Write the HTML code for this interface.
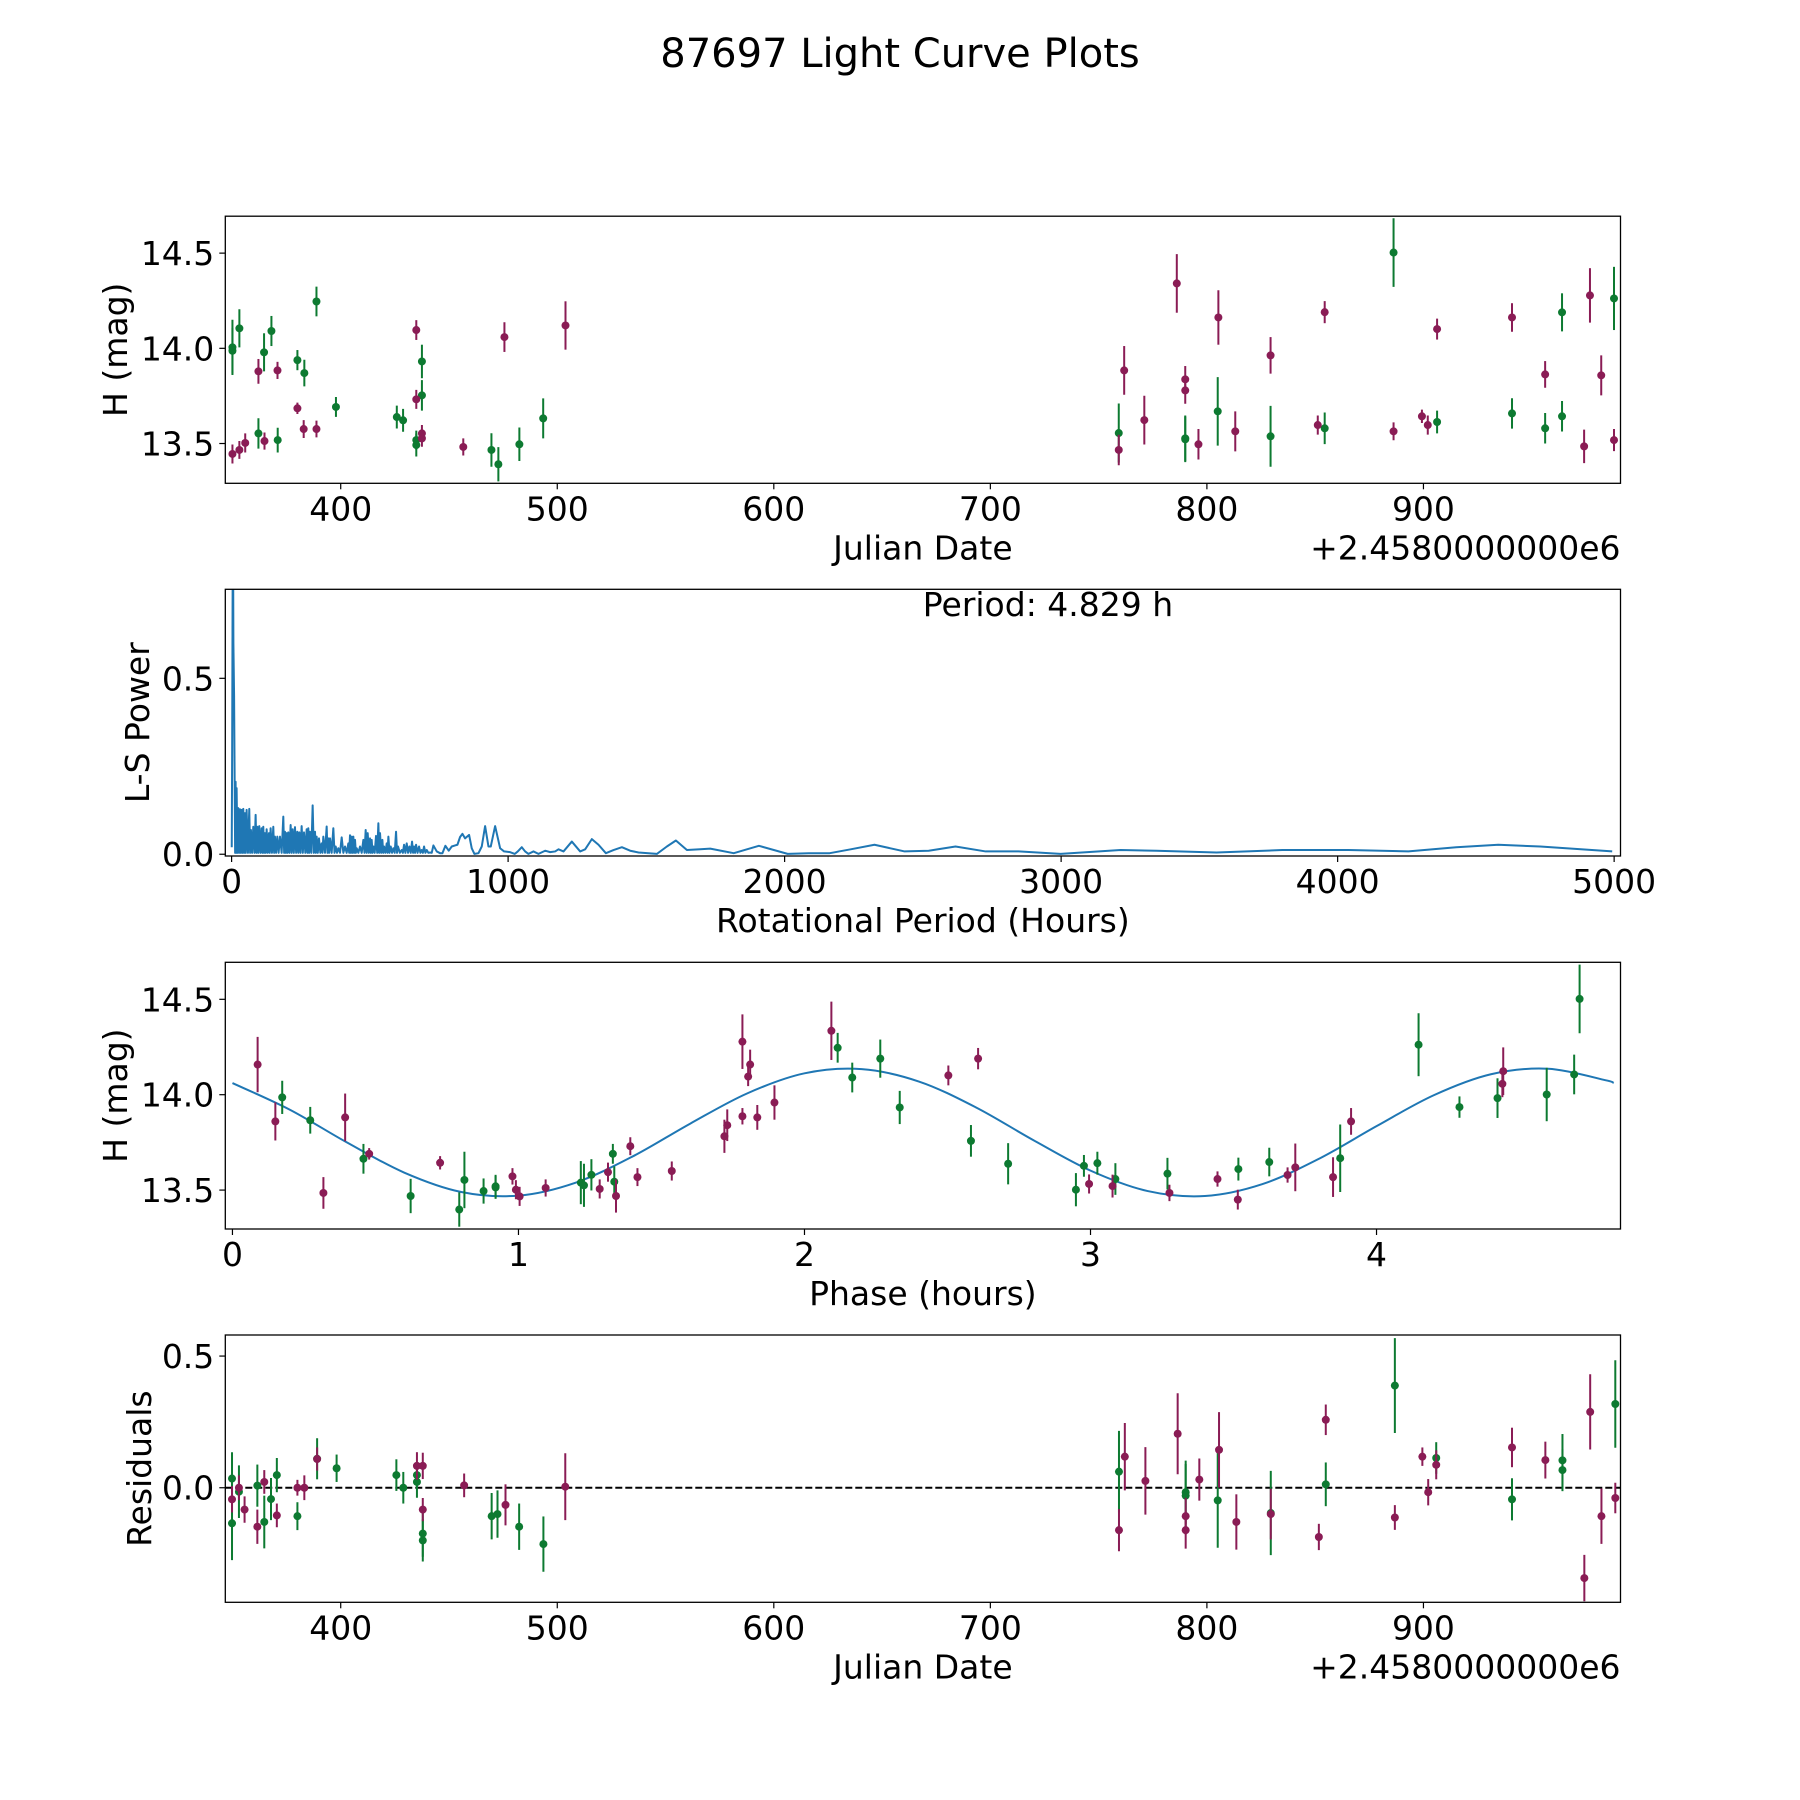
<!DOCTYPE html>
<html><head><meta charset="utf-8"><title>87697 Light Curve Plots</title>
<style>
html,body{margin:0;padding:0;background:#fff;}
svg{display:block;}
text{font-family:"DejaVu Sans","Liberation Sans",sans-serif;fill:#000;}
</style></head>
<body>
<svg id="fig" xmlns="http://www.w3.org/2000/svg" width="1800" height="1800" viewBox="0 0 1800 1800">
<rect width="1800" height="1800" fill="#fff"/>
<text x="900" y="67" text-anchor="middle" font-size="40">87697 Light Curve Plots</text>
</svg>
<script>
// ---------- Panel 1: light curve data ----------
const p1GreenJD=[350.0,350.0,353.2,364.6,368.0,362.0,370.9,380.0,383.2,388.8,397.8,425.9,428.8,434.9,434.9,437.5,437.5,469.6,472.8,482.5,493.5,759.3,790.0,790.0,805.0,829.4,854.4,886.2,906.3,940.9,956.2,964.0,964.0,988.0];
const p1GreenMag=[14.005,13.987,14.105,13.979,14.091,13.553,13.518,13.938,13.870,14.246,13.692,13.639,13.622,13.518,13.492,13.931,13.753,13.466,13.391,13.496,13.632,13.555,13.527,13.522,13.669,13.538,13.580,14.503,13.613,13.658,13.580,14.189,13.643,14.262];
const p1GreenErr=[0.145,0.12,0.10,0.10,0.079,0.08,0.065,0.053,0.07,0.078,0.052,0.06,0.06,0.05,0.06,0.088,0.08,0.088,0.09,0.088,0.105,0.155,0.12,0.12,0.18,0.16,0.083,0.18,0.06,0.08,0.08,0.1,0.08,0.166];
const p1PurpleJD=[350.0,353.2,355.9,362.0,364.8,370.8,380.0,382.9,388.8,434.9,434.9,437.5,437.5,456.6,475.6,503.8,759.3,761.8,771.1,786.1,790.0,790.0,796.1,805.3,813.1,829.4,851.2,854.4,886.2,899.3,902.0,906.3,940.9,956.2,976.9,974.2,982.1,988.0];
const p1PurpleMag=[13.445,13.466,13.503,13.879,13.513,13.884,13.685,13.576,13.576,14.096,13.732,13.553,13.527,13.482,14.059,14.120,13.466,13.884,13.623,14.341,13.837,13.779,13.496,14.162,13.564,13.963,13.597,14.190,13.564,13.643,13.597,14.101,14.162,13.863,14.278,13.485,13.858,13.518];
const p1PurpleErr=[0.05,0.047,0.05,0.065,0.045,0.045,0.03,0.047,0.044,0.052,0.05,0.044,0.044,0.045,0.078,0.127,0.08,0.128,0.128,0.154,0.07,0.07,0.08,0.143,0.105,0.096,0.05,0.058,0.047,0.035,0.05,0.055,0.075,0.07,0.143,0.088,0.105,0.058];
const jdTicks=[400,500,600,700,800,900];
const magTicks=[13.5,14.0,14.5];
const magTickLabels=["13.5","14.0","14.5"];

// ---------- Panel 2: periodogram ----------
const lsPeakPeriod=[0.5,2,3.5,4.829,6.5,9,11];
const lsPeakPower=[0.02,0.3,0.7,1.0,0.6,0.45,0.21];
const lsSpikePeriod=[14.5,18.1,24.1,30.2,36.2,42.2,48.3,54.3,63.9,69.9,78.4,86.9,92.9,100.1,108.6,114.6,120.6,126.7,135.1,141.1,150.8,156.8,165.3,174.9,187,193,199,205,213.5,220.8,229.2,237.6,244.9,253.3,261.8,271.4,277.4,283.5,293.1,301.6,307.6,316,325.7,331.7,343.8,349.8,355.9,367.9,376.4,386,398.1,410.1,422.2,428.2,434.3,440.3,446.3,452.4,464.4,476.5,484.9,492.2,500.6,506.6,512.7,522.3,530.8,536.8,545.3,551.3,560.9,567,575.4,585.1,594.7,601.9,615.2,623.7,633.3,643,652.6,659.8,667.1,677.9,687.6,696,705.7,717.7,729.8];
const lsSpikePower=[0.206,0.188,0.131,0.128,0.126,0.129,0.117,0.126,0.129,0.069,0.078,0.112,0.078,0.08,0.074,0.078,0.06,0.071,0.06,0.074,0.078,0.05,0.05,0.05,0.107,0.064,0.06,0.062,0.083,0.071,0.077,0.064,0.062,0.08,0.062,0.071,0.074,0.064,0.139,0.064,0.05,0.045,0.031,0.05,0.079,0.045,0.045,0.074,0.022,0.017,0.048,0.022,0.031,0.054,0.05,0.05,0.041,0.017,0.022,0.041,0.069,0.06,0.045,0.041,0.022,0.052,0.088,0.06,0.041,0.022,0.031,0.05,0.022,0.017,0.064,0.022,0.012,0.027,0.031,0.022,0.036,0.022,0.027,0.022,0.012,0.022,0.012,0.005,0.025];
const lsTroughPower=0.004;
const lsSmoothPeriod=[741.9,753.9,762.4,773.2,785.3,796.2,808.2,816.7,826.3,834.8,844.4,858.9,868.5,878.2,892.7,904.7,916.8,928.9,937.3,953,971.1,985.5,1007.3,1024.2,1035,1049.5,1061.5,1073.6,1091.7,1109.8,1133.9,1152,1170.1,1182.2,1200.3,1230.4,1260.6,1278.7,1302.8,1326.9,1353.5,1381.2,1411.4,1441.5,1471.7,1538,1574.2,1606.8,1646.6,1694.9,1731,1816,1907,2011,2087,2163,2239,2325,2434,2521,2618,2727,2846,2998,3215,3345,3562,3800,4039,4256,4429,4581,4733,4993];
const lsSmoothPower=[0.008,0.003,0.003,0.024,0.01,0.022,0.025,0.027,0.049,0.058,0.045,0.055,0.017,0.001,0.003,0.022,0.08,0.022,0.022,0.08,0.017,0.008,0.006,0.001,0.008,0.02,0.008,0.001,0.008,0.001,0.01,0.006,0.008,0.014,0.008,0.036,0.008,0.014,0.043,0.027,0.003,0.012,0.02,0.01,0.005,0.001,0.022,0.039,0.012,0.014,0.016,0.003,0.024,0.001,0.003,0.003,0.014,0.027,0.008,0.01,0.022,0.008,0.008,0.001,0.012,0.01,0.005,0.012,0.012,0.008,0.02,0.027,0.022,0.008];
const periodTicks=[0,1000,2000,3000,4000,5000];
const powerTicks=[0.0,0.5];
const powerTickLabels=["0.0","0.5"];

// ---------- Panel 3: phase-folded ----------
const phGreenPhase=[0.174,0.272,0.458,0.623,0.793,0.811,0.878,0.920,0.920,1.218,1.229,1.255,1.330,1.335,2.116,2.167,2.265,2.333,2.582,2.712,2.949,2.977,3.024,3.087,3.269,3.517,3.625,3.873,4.147,4.290,4.423,4.595,4.691,4.710];
const phGreenMag=[13.986,13.866,13.664,13.469,13.398,13.553,13.495,13.520,13.514,13.539,13.525,13.580,13.690,13.544,14.246,14.090,14.189,13.933,13.758,13.638,13.502,13.627,13.641,13.558,13.586,13.610,13.647,13.667,14.262,13.935,13.982,14.001,14.106,14.502];
const phGreenErr=[0.087,0.07,0.078,0.09,0.09,0.148,0.066,0.06,0.06,0.113,0.113,0.082,0.052,0.08,0.078,0.078,0.1,0.087,0.083,0.108,0.087,0.057,0.06,0.083,0.083,0.06,0.075,0.177,0.165,0.056,0.104,0.14,0.104,0.18];
const phPurplePhase=[0.088,0.150,0.318,0.394,0.478,0.726,0.979,0.991,1.004,1.095,1.284,1.313,1.341,1.391,1.416,1.536,1.720,1.730,1.783,1.783,1.810,1.803,1.835,1.895,2.094,2.503,2.607,2.995,3.077,3.276,3.444,3.515,3.689,3.716,3.848,3.911,4.440,4.443];
const phPurpleMag=[14.158,13.860,13.485,13.881,13.690,13.643,13.572,13.502,13.467,13.511,13.506,13.594,13.469,13.730,13.568,13.600,13.782,13.840,14.278,13.887,14.158,14.095,13.881,13.959,14.335,14.101,14.189,13.532,13.521,13.485,13.558,13.450,13.579,13.619,13.568,13.860,14.057,14.123];
const phPurpleErr=[0.145,0.1,0.083,0.125,0.03,0.035,0.043,0.05,0.05,0.045,0.05,0.05,0.087,0.047,0.047,0.05,0.087,0.083,0.143,0.043,0.078,0.05,0.065,0.09,0.153,0.052,0.056,0.05,0.06,0.043,0.04,0.052,0.04,0.125,0.104,0.07,0.07,0.125];
const modelPhase=[0,0.2,0.4,0.6,0.8,1.0,1.2,1.4,1.6,1.8,2.0,2.2,2.4,2.6,2.8,3.0,3.2,3.4,3.6,3.8,4.0,4.2,4.4,4.6,4.8,4.829];
const modelMag=[14.061,13.922,13.750,13.592,13.490,13.471,13.539,13.677,13.848,14.007,14.112,14.134,14.069,13.933,13.762,13.602,13.495,13.469,13.531,13.665,13.835,13.997,14.107,14.136,14.076,14.061];
const phaseTicks=[0,1,2,3,4];

// ---------- Panel 4: residuals ----------
const resGreenJD=[349.8,349.8,353.0,361.5,364.7,367.8,370.5,380.0,389.1,398.1,425.7,428.9,435.2,435.2,437.9,437.9,469.7,472.4,482.4,493.6,759.4,790.2,790.2,805.0,829.5,854.9,886.8,905.9,940.9,964.2,964.2,988.6];
const resGreenVal=[0.035,-0.135,-0.015,0.008,-0.13,-0.043,0.048,-0.108,0.11,0.074,0.048,0.0,0.048,0.022,-0.174,-0.2,-0.108,-0.1,-0.148,-0.214,0.061,-0.017,-0.03,-0.048,-0.096,0.013,0.388,0.113,-0.044,0.104,0.067,0.318];
const resGreenErr=[0.1,0.14,0.1,0.08,0.1,0.08,0.065,0.053,0.078,0.052,0.06,0.06,0.05,0.06,0.088,0.08,0.088,0.09,0.088,0.105,0.155,0.12,0.12,0.18,0.16,0.083,0.18,0.06,0.08,0.1,0.08,0.166];
const resPurpleJD=[349.8,353.0,355.6,361.5,364.7,370.5,380.0,383.2,389.1,435.2,437.9,437.9,457.0,476.1,503.7,759.4,762.1,771.6,786.5,790.2,790.2,796.5,805.6,813.6,829.5,851.7,854.9,886.8,899.5,902.2,905.9,940.9,956.3,977.0,974.3,982.2,988.6];
const resPurpleVal=[-0.044,0.0,-0.083,-0.148,0.022,-0.105,0.0,0.0,0.109,0.083,0.083,-0.083,0.009,-0.065,0.004,-0.161,0.118,0.026,0.205,-0.108,-0.161,0.031,0.144,-0.13,-0.1,-0.187,0.258,-0.113,0.118,-0.017,0.087,0.153,0.105,0.288,-0.343,-0.108,-0.039];
const resPurpleErr=[0.05,0.047,0.05,0.065,0.045,0.045,0.03,0.047,0.044,0.052,0.05,0.044,0.045,0.078,0.127,0.08,0.128,0.128,0.154,0.07,0.07,0.08,0.143,0.105,0.096,0.05,0.058,0.047,0.035,0.05,0.055,0.075,0.07,0.143,0.088,0.105,0.058];
const resTicks=[0.0,0.5];
const resTickLabels=["0.0","0.5"];

const GREEN="#0d7a31", PURPLE="#8a1c55", BLUE="#1f77b4";
const NS="http://www.w3.org/2000/svg";
const svg=document.getElementById('fig');
const FS=33;

function el(tag,attrs,parent){const e=document.createElementNS(NS,tag);for(const k in attrs)e.setAttribute(k,attrs[k]);(parent||svg).appendChild(e);return e;}

function makeScale(p){
  p.sx=v=>p.x0+(v-p.xmin)/(p.xmax-p.xmin)*(p.x1-p.x0);
  p.sy=v=>p.y1-(v-p.ymin)/(p.ymax-p.ymin)*(p.y1-p.y0);
  return p;
}
const P1=makeScale({x0:225.3,x1:1620.5,y0:216.2,y1:483.3,xmin:346.7,xmax:991,ymin:13.291,ymax:14.694});
const P2=makeScale({x0:225.3,x1:1620.5,y0:589.3,y1:856,xmin:-22.8,xmax:5023,ymin:-0.005,ymax:0.753});
const P3=makeScale({x0:225.3,x1:1620.5,y0:962.3,y1:1229,xmin:-0.025,xmax:4.853,ymin:13.296,ymax:14.694});
const P4=makeScale({x0:225.3,x1:1620.5,y0:1335,y1:1602.3,xmin:346.7,xmax:991,ymin:-0.435,ymax:0.58});

function drawAxes(p,name,xt,xtl,yt,ytl,xlabel,ylabel,ylabelX,offsetText){
  const g=el('g',{});
  
  
  const xg=el('g',{},g);
  
  
  xt.forEach((v,i)=>{
    const x=p.sx(v);
    const t=el('line',{x1:x,x2:x,y1:p.y1,y2:p.y1+6,stroke:'#000','stroke-width':1.2},xg);
    
    
    const lb=el('text',{x:x,y:p.y1+37,'text-anchor':'middle','font-size':FS},xg);
    
    
    lb.textContent=xtl[i];
  });
  const yg=el('g',{},g);
  
  
  yt.forEach((v,i)=>{
    const y=p.sy(v);
    const t=el('line',{x1:p.x0-6,x2:p.x0,y1:y,y2:y,stroke:'#000','stroke-width':1.2},yg);
    
    
    const lb=el('text',{x:p.x0-11,y:y+12,'text-anchor':'end','font-size':FS},yg);
    
    
    lb.textContent=ytl[i];
  });
  const xl=el('text',{x:(p.x0+p.x1)/2,y:p.y1+76,'text-anchor':'middle','font-size':FS},g);
  
  
  xl.textContent=xlabel;
  const cy=(p.y0+p.y1)/2;
  const yl=el('text',{x:ylabelX,y:cy,'text-anchor':'middle','font-size':FS,transform:`rotate(-90 ${ylabelX} ${cy})`},g);
  
  
  yl.textContent=ylabel;
  if(offsetText){
    const ot=el('text',{x:p.x1,y:p.y1+76,'text-anchor':'end','font-size':FS},g);
    
    
    ot.textContent=offsetText;
  }
  return g;
}
function drawFrame(p,name){
  const r=el('rect',{x:p.x0,y:p.y0,width:p.x1-p.x0,height:p.y1-p.y0,fill:'none',stroke:'#000','stroke-width':1.3});
  
  
}
function clipFor(p,id){
  const cp=el('clipPath',{id:id});
  el('rect',{x:p.x0,y:p.y0,width:p.x1-p.x0,height:p.y1-p.y0},cp);
  return 'url(#'+id+')';
}
function drawErr(p,xs,ys,es,color,name,clip){
  const g=el('g',{'clip-path':clip});
  
  
  xs.forEach((xv,i)=>{
    const x=p.sx(xv);
    const ln=el('line',{x1:x,x2:x,y1:p.sy(ys[i]-es[i]),y2:p.sy(ys[i]+es[i]),stroke:color,'stroke-width':2},g);
    
    
    const c=el('circle',{cx:x,cy:p.sy(ys[i]),r:4,fill:color},g);
    
    
  });
}

const jdLabels=jdTicks.map(String);
// Panel 1
drawAxes(P1,'light-curve-panel',jdTicks,jdLabels,magTicks,magTickLabels,'Julian Date','H (mag)',127,'+2.4580000000e6');
const c1=clipFor(P1,'c1');
drawErr(P1,p1GreenJD,p1GreenMag,p1GreenErr,GREEN,'light-curve-green-series',c1);
drawErr(P1,p1PurpleJD,p1PurpleMag,p1PurpleErr,PURPLE,'light-curve-purple-series',c1);
drawFrame(P1,'light-curve-panel');

// Panel 2
drawAxes(P2,'periodogram-panel',periodTicks,periodTicks.map(String),powerTicks,powerTickLabels,'Rotational Period (Hours)','L-S Power',149,null);
const c2=clipFor(P2,'c2');
(function(){
  const pts=[];
  lsPeakPeriod.forEach((v,i)=>pts.push([v,lsPeakPower[i]]));
  lsSpikePeriod.forEach((v,i)=>{
    const prev=i===0?lsPeakPeriod[lsPeakPeriod.length-1]:lsSpikePeriod[i-1];
    pts.push([(prev+v)/2,lsTroughPower]);
    pts.push([v,lsSpikePower[i]]);
  });
  lsSmoothPeriod.forEach((v,i)=>pts.push([v,lsSmoothPower[i]]));
  let d='';
  pts.forEach((q,i)=>{d+=(i?'L':'M')+P2.sx(q[0]).toFixed(2)+','+P2.sy(q[1]).toFixed(2);});
  const path=el('path',{d:d,fill:'none',stroke:BLUE,'stroke-width':2,'stroke-linejoin':'round','clip-path':c2});
  
  
})();
drawFrame(P2,'periodogram-panel');
const ann=el('text',{x:1048,y:616,'text-anchor':'middle','font-size':FS});


ann.textContent='Period: 4.829 h';

// Panel 3
drawAxes(P3,'phase-panel',phaseTicks,phaseTicks.map(String),magTicks,magTickLabels,'Phase (hours)','H (mag)',127,null);
const c3=clipFor(P3,'c3');
(function(){
  const pts=modelPhase.map((v,i)=>[P3.sx(v),P3.sy(modelMag[i])]);
  let d='M'+pts[0][0]+','+pts[0][1];
  for(let i=0;i<pts.length-1;i++){
    const p0=pts[Math.max(0,i-1)],p1=pts[i],p2=pts[i+1],p3=pts[Math.min(pts.length-1,i+2)];
    const c1x=p1[0]+(p2[0]-p0[0])/6,c1y=p1[1]+(p2[1]-p0[1])/6;
    const c2x=p2[0]-(p3[0]-p1[0])/6,c2y=p2[1]-(p3[1]-p1[1])/6;
    d+=`C${c1x.toFixed(2)},${c1y.toFixed(2)} ${c2x.toFixed(2)},${c2y.toFixed(2)} ${p2[0].toFixed(2)},${p2[1].toFixed(2)}`;
  }
  const path=el('path',{d:d,fill:'none',stroke:BLUE,'stroke-width':2,'clip-path':c3});
  
  
})();
drawErr(P3,phGreenPhase,phGreenMag,phGreenErr,GREEN,'phase-green-series',c3);
drawErr(P3,phPurplePhase,phPurpleMag,phPurpleErr,PURPLE,'phase-purple-series',c3);
drawFrame(P3,'phase-panel');

// Panel 4
drawAxes(P4,'residuals-panel',jdTicks,jdLabels,resTicks,resTickLabels,'Julian Date','Residuals',151,'+2.4580000000e6');
const c4=clipFor(P4,'c4');
const zl=el('line',{x1:P4.x0,x2:P4.x1,y1:P4.sy(0),y2:P4.sy(0),stroke:'#000','stroke-width':2,'stroke-dasharray':'7,3'});


drawErr(P4,resGreenJD,resGreenVal,resGreenErr,GREEN,'residuals-green-series',c4);
drawErr(P4,resPurpleJD,resPurpleVal,resPurpleErr,PURPLE,'residuals-purple-series',c4);
drawFrame(P4,'residuals-panel');
</script>
</body></html>
